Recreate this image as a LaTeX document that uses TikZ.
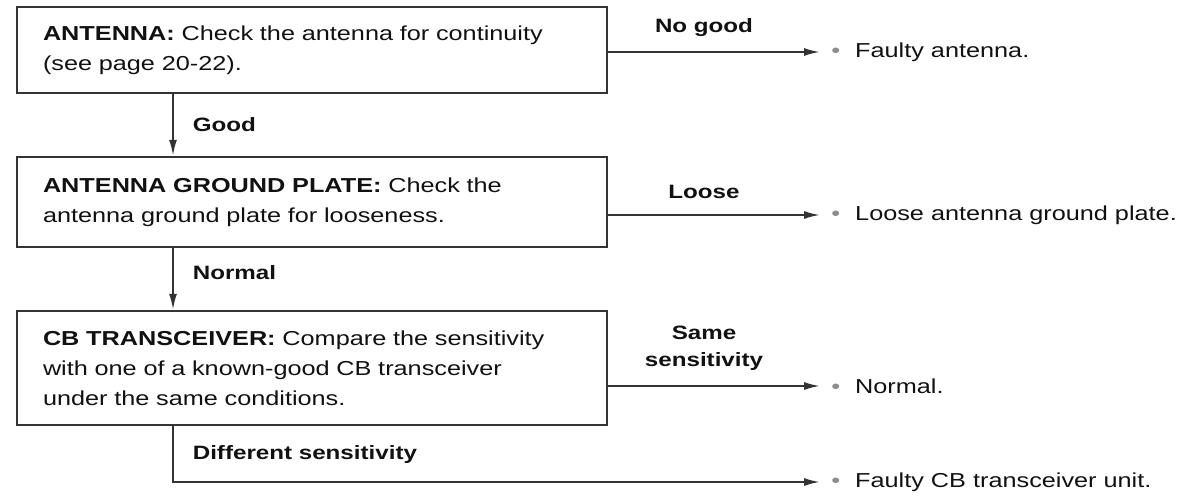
\documentclass[tikz,border=0pt]{standalone}
\usepackage{fontspec}
\setmainfont{Liberation Sans}[FakeStretch=1.25]
\usetikzlibrary{positioning,arrows.meta,calc}
\definecolor{lineGray}{HTML}{333333}
\definecolor{dotGray}{HTML}{8C8C8C}
\definecolor{textDark}{HTML}{111111}

\begin{document}
\begin{tikzpicture}[
  >=Latex,
  flow/.style={-{Latex[length=3.2mm, width=1.6mm]}, line width=1.1pt, draw=lineGray},
  checkbox/.style={
    rectangle,
    draw=lineGray,
    line width=1.4pt,
    text width=10.76cm,
    inner xsep=0.52cm,
    align=left,
    font=\fontsize{11.5}{17}\selectfont,
    text=textDark
  },
  result/.style={
    anchor=west,
    inner xsep=0pt,
    font=\fontsize{11.5}{17}\selectfont,
    text=textDark
  },
  tag/.style={
    align=center,
    font=\bfseries\fontsize{11}{15.3}\selectfont,
    text=textDark
  }
]
  \useasboundingbox (0,0) rectangle (23.82,9.92);

  % Check boxes
  \node[checkbox, minimum height=1.72cm] (antenna) at (6.24,8.92)
    {\textbf{ANTENNA:} Check the antenna for continuity\\(see page 20-22).};
  \node[checkbox, minimum height=1.8cm] (plate) at (6.24,5.88)
    {\textbf{ANTENNA GROUND PLATE:} Check the\\antenna ground plate for looseness.};
  \node[checkbox, minimum height=2.28cm] (cb) at (6.24,2.56)
    {\textbf{CB TRANSCEIVER:} Compare the sensitivity\\with one of a known-good CB transceiver\\under the same conditions.};

  % Results
  \node[result] (faultyAnt) at (16.62,8.88)
    {\textcolor{dotGray}{\textbullet}\hspace{0.3cm}Faulty antenna.};
  \node[result] (looseRes) at (16.62,5.62)
    {\textcolor{dotGray}{\textbullet}\hspace{0.3cm}Loose antenna ground plate.};
  \node[result] (normalRes) at (16.62,2.2)
    {\textcolor{dotGray}{\textbullet}\hspace{0.3cm}Normal.};
  \node[result] (faultyCb) at (16.62,0.28)
    {\textcolor{dotGray}{\textbullet}\hspace{0.3cm}Faulty CB transceiver unit.};

  \coordinate (spine) at (3.46,0);

  % Main flow down
  \draw[flow] (antenna.south -| spine) -- node[tag, right=0.26cm] {Good} (plate.north -| spine);
  \draw[flow] (plate.south -| spine) -- node[tag, right=0.26cm, pos=0.4] {Normal} (cb.north -| spine);

  % Branches to the right
  \draw[flow, shorten >=0.22cm] (antenna.east |- faultyAnt.west)
    -- node[tag, above=0.18cm, pos=0.43] {No good} (faultyAnt.west);
  \draw[flow, shorten >=0.22cm] (plate.east |- looseRes.west)
    -- node[tag, above=0.18cm, pos=0.43] {Loose} (looseRes.west);
  \draw[flow, shorten >=0.22cm] (cb.east |- normalRes.west)
    -- node[tag, above=0.18cm, pos=0.43] {Same\\sensitivity} (normalRes.west);
  \draw[flow, shorten >=0.22cm] (cb.south -| spine)
    |- node[tag, right=0.26cm, pos=0.25] {Different sensitivity} (faultyCb.west);
\end{tikzpicture}
\end{document}
